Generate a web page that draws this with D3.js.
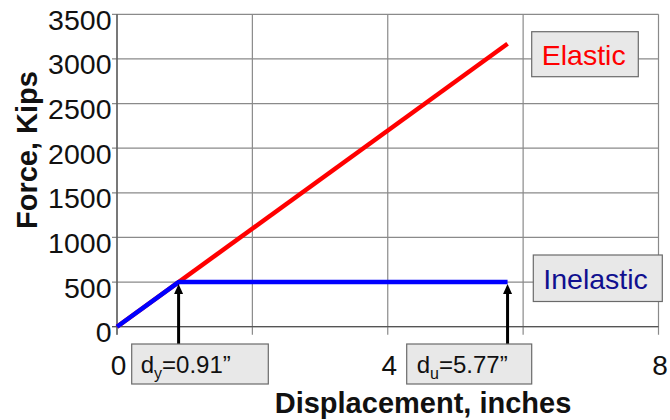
<!DOCTYPE html>
<html>
<head>
<meta charset="utf-8">
<script src="https://cdn.jsdelivr.net/npm/d3@7"></script>
<style>
  body { margin: 0; background: #fff; }
  svg { display: block; font-family: "Liberation Sans", Arial, sans-serif; }
</style>
</head>
<body>
<svg id="chart" width="670" height="420"></svg>
<script>
// ---- data ----
const xTicks = [0, 2, 4, 6, 8];
const yTicks = [0, 500, 1000, 1500, 2000, 2500, 3000, 3500];
const elasticX = [0, 5.77];
const elasticY = [0, 3170];
const inelasticX = [0, 0.91, 5.77];
const inelasticY = [0, 500, 500];
const seriesNames = ["Elastic", "Inelastic"];
const seriesColors = ["#ff0000", "#0000ff"];
const labelColors = ["#ff0000", "#10108f"];
const markerX = [0.91, 5.77];
const markerY = [500, 500];
const markerSub = ["y", "u"];
const markerVal = ["=0.91\u201D", "=5.77\u201D"];
const xTitle = "Displacement, inches";
const yTitle = "Force, Kips";

// ---- layout ----
const svg = d3.select("#chart");
const x = d3.scaleLinear().domain([0, 8]).range([117, 658.5]);
const y = d3.scaleLinear().domain([0, 3500]).range([326.7, 14.3]);

const grid = svg.append("g");
grid.selectAll("line.h").data(yTicks).join("line")
  .attr("x1", x(0) - 5).attr("x2", x(8))
  .attr("y1", d => y(d)).attr("y2", d => y(d))
  .attr("stroke", "#8a8a8a").attr("stroke-width", 1.2);
grid.selectAll("line.v").data(xTicks).join("line")
  .attr("x1", d => x(d)).attr("x2", d => x(d))
  .attr("y1", y(3500)).attr("y2", y(0) + 8)
  .attr("stroke", "#8a8a8a").attr("stroke-width", 1.2);
// axis lines
svg.append("line").attr("x1", x(0)).attr("x2", x(0)).attr("y1", y(3500)).attr("y2", y(0) + 8)
  .attr("stroke", "#555").attr("stroke-width", 1.3);
svg.append("line").attr("x1", x(0) - 5).attr("x2", x(8)).attr("y1", y(0)).attr("y2", y(0))
  .attr("stroke", "#555").attr("stroke-width", 1.3);

// tick labels
svg.append("g").selectAll("text").data(yTicks).join("text")
  .attr("x", x(0) - 5.5).attr("y", d => y(d) + 15.5)
  .attr("text-anchor", "end").attr("font-size", 28.5).attr("fill", "#111")
  .text(d => d);
svg.append("g").selectAll("text").data(xTicks).join("text")
  .attr("x", d => x(d) + 1.5).attr("y", 375)
  .attr("text-anchor", "middle").attr("font-size", 28).attr("fill", "#111")
  .text(d => d);

// titles
svg.append("text").attr("x", 423).attr("y", 413)
  .attr("text-anchor", "middle").attr("font-size", 29).attr("font-weight", "bold")
  .attr("fill", "#111").text(xTitle);
svg.append("text").attr("transform", "translate(37,150) rotate(-90)")
  .attr("text-anchor", "middle").attr("font-size", 29).attr("font-weight", "bold")
  .attr("fill", "#111").text(yTitle);

// lines
const line = d3.line().x(d => x(d[0])).y(d => y(d[1]));
const series = [d3.zip(elasticX, elasticY), d3.zip(inelasticX, inelasticY)];
svg.append("g").selectAll("path").data(series).join("path")
  .attr("d", line).attr("fill", "none")
  .attr("stroke", (d, i) => seriesColors[i]).attr("stroke-width", 4.5)
  .attr("stroke-linejoin", "round");

// series label boxes
const labelBoxes = [
  { x: 531.7, y: 31.7, w: 106.6, h: 45, tx: 541.7, ty: 65 },
  { x: 533.3, y: 255, w: 129, h: 46.5, tx: 543.3, ty: 288.5 }
];
const lg = svg.append("g").selectAll("g").data(labelBoxes).join("g");
lg.append("rect").attr("x", d => d.x).attr("y", d => d.y).attr("width", d => d.w).attr("height", d => d.h)
  .attr("fill", "#e8e8e8").attr("stroke", "#6a6a6a").attr("stroke-width", 1.2);
lg.append("text").attr("x", d => d.tx).attr("y", d => d.ty)
  .attr("font-size", 28.5).attr("fill", (d, i) => labelColors[i])
  .text((d, i) => seriesNames[i]);

// marker arrows
const boxTop = 344;
const ag = svg.append("g");
markerX.forEach((mx, i) => {
  const px = x(mx), py = y(markerY[i]) + 2;
  ag.append("line").attr("x1", px).attr("x2", px).attr("y1", boxTop).attr("y2", py + 8)
    .attr("stroke", "#000").attr("stroke-width", 3);
  ag.append("path").attr("d", `M${px},${py} L${px - 4.5},${py + 10} L${px + 4.5},${py + 10} Z`).attr("fill", "#000");
});

// marker boxes
const markerBoxes = [
  { x: 131.7, w: 136.6, tx: 140.7 },
  { x: 406.7, w: 125, tx: 416.7 }
];
markerBoxes.forEach((b, i) => {
  svg.append("rect").attr("x", b.x).attr("y", boxTop).attr("width", b.w).attr("height", 40)
    .attr("fill", "#e8e8e8").attr("stroke", "#6a6a6a").attr("stroke-width", 1.2);
  const t = svg.append("text").attr("x", b.tx).attr("y", 373).attr("font-size", 24).attr("fill", "#111");
  t.append("tspan").text("d");
  t.append("tspan").attr("font-size", 16).attr("dy", 6).text(markerSub[i]);
  t.append("tspan").attr("dy", -6).text(markerVal[i]);
});
</script>
</body>
</html>
